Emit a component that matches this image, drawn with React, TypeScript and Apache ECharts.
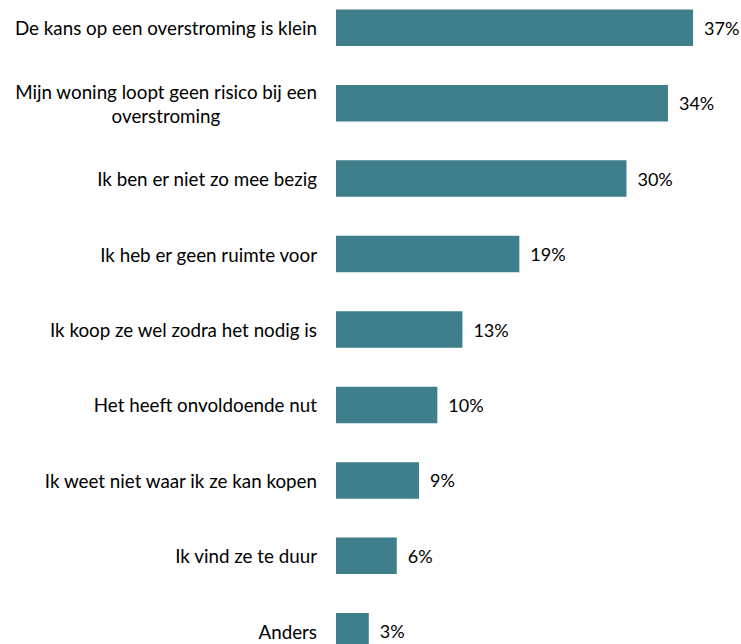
import React, { useEffect, useRef } from "react";
import * as echarts from "echarts";

const categories = [
  "De kans op een overstroming is klein",
  "Mijn woning loopt geen risico bij een\noverstroming",
  "Ik ben er niet zo mee bezig",
  "Ik heb er geen ruimte voor",
  "Ik koop ze wel zodra het nodig is",
  "Het heeft onvoldoende nut",
  "Ik weet niet waar ik ze kan kopen",
  "Ik vind ze te duur",
  "Anders",
];
const values = [37.0, 34.4, 30.1, 19.0, 13.1, 10.5, 8.6, 6.3, 3.4];
const valueLabels = ["37%", "34%", "30%", "19%", "13%", "10%", "9%", "6%", "3%"];

export default function App() {
  const ref = useRef<HTMLDivElement>(null);
  useEffect(() => {
    if (!ref.current) return;
    const chart = echarts.init(ref.current, undefined, { renderer: "svg" });
    const font = "Lato";
    const fs = 18.8;
    chart.setOption({
      animation: false,
      grid: { left: 336, width: 386, top: 0, height: 679, containLabel: false },
      xAxis: {
        type: "value",
        min: 0,
        max: 40,
        show: false,
      },
      yAxis: {
        type: "category",
        inverse: true,
        data: categories,
        axisLine: { show: false },
        axisTick: { show: false },
        splitLine: { show: false },
        axisLabel: {
          margin: 19,
          color: "#000",
          fontFamily: font,
          fontSize: fs,
          lineHeight: 24,
          align: "right",
          formatter: (v: string) => {
            const parts = v.split("\n");
            if (parts.length < 2) return v;
            return parts[0] + "\n{c|" + parts[1] + "}";
          },
          rich: {
            c: {
              width: 274,
              align: "center",
              fontFamily: font,
              fontSize: fs,
              lineHeight: 24,
              color: "#000",
            },
          },
        },
      },
      series: [
        {
          type: "bar",
          data: values,
          barWidth: 36.5,
          itemStyle: { color: "#3E7F8B" },
          label: {
            show: true,
            position: "right",
            distance: 11,
            color: "#000",
            fontFamily: font,
            fontSize: 18,
            formatter: (p: any) => valueLabels[p.dataIndex],
          },
        },
      ],
    });
    return () => chart.dispose();
  }, []);
  return (
    <div
      ref={ref}
      style={{ position: "fixed", left: 0, top: -10, width: 741, height: 680, background: "#fff" }}
    />
  );
}
